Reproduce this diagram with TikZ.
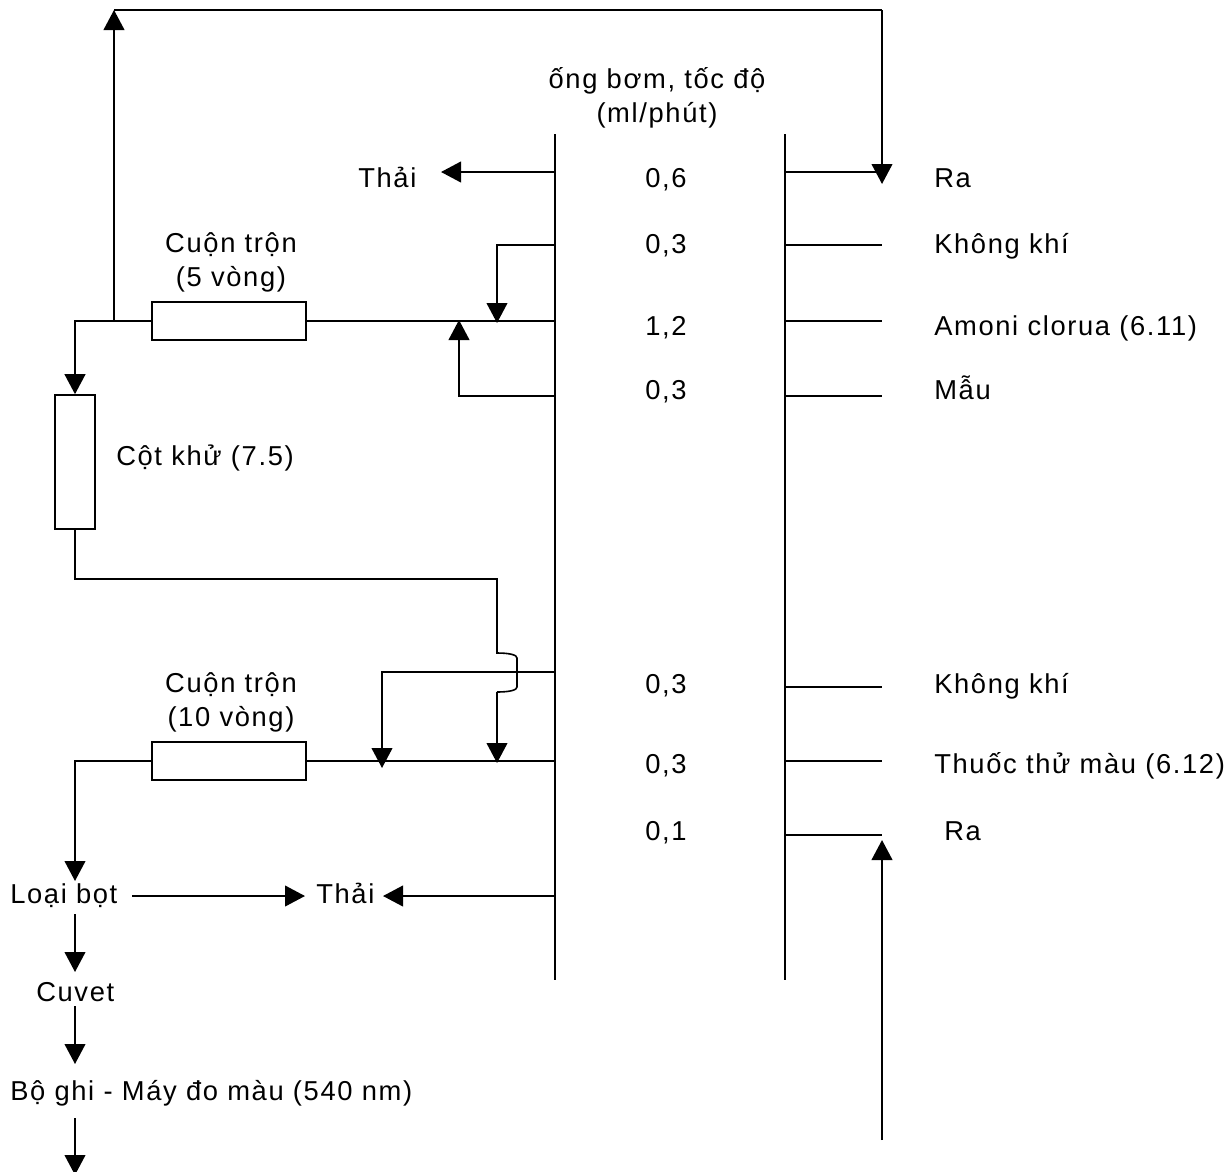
\documentclass[tikz,border=0pt]{standalone}
\usepackage{fontspec}
\setmainfont[LetterSpace=6.0]{Liberation Sans}
\usetikzlibrary{arrows.meta}
\tikzset{
  txt/.style={inner sep=0pt,anchor=base west,font=\fontsize{20.5}{24}\selectfont},
  ctxt/.style={inner sep=0pt,anchor=base,font=\fontsize{20.5}{24}\selectfont},
  wire/.style={line width=1.5pt,black},
  thin wire/.style={line width=1.2pt,black},
  flow/.style={wire,-{Triangle[length=15pt,width=15.5pt]}},
  unit/.style={draw=black,line width=1.2pt,fill=white,inner sep=0pt},
  hbox/.style={unit,minimum width=115.5pt,minimum height=28.5pt},
  vbox/.style={unit,minimum width=30pt,minimum height=100.5pt}
}
\begin{document}
\begin{tikzpicture}[x=0.75pt,y=-0.75pt]
\useasboundingbox (0,0) rectangle (1226,1171);
\clip (0,0) rectangle (1226,1171);
% rails
\coordinate (Lt) at (555,134); \coordinate (Lb) at (555,980);
\coordinate (Rt) at (785,134); \coordinate (Rb) at (785,980);
\draw[wire] (Lt) -- (Lb);
\draw[wire] (Rt) -- (Rb);
% boxes
\node[hbox] (coil1) at (229,321) {};
\node[vbox] (col) at (75,462) {};
\node[hbox] (coil2) at (229,761) {};
% texts
\node[ctxt] (pumpa) at (657,88) {ống bơm, tốc độ};
\node[ctxt] (pumpb) at (657,122) {(ml/phút)};
\node[txt] (waste1) at (358,187) {Thải};
\node[ctxt] (v1) at (666,187) {0,6};
\node[ctxt] (v2) at (666,253) {0,3};
\node[ctxt] (v3) at (666,335) {1,2};
\node[ctxt] (v4) at (666,399) {0,3};
\node[ctxt] (v5) at (666,693) {0,3};
\node[ctxt] (v6) at (666,773) {0,3};
\node[ctxt] (v7) at (666,840) {0,1};
\node[txt] (r1) at (934,187) {Ra};
\node[txt] (r2) at (934,253) {Không khí};
\node[txt] (r3) at (934,335) {Amoni clorua (6.11)};
\node[txt] (r4) at (934,399) {Mẫu};
\node[txt] (r5) at (934,693) {Không khí};
\node[txt] (r6) at (934,773) {Thuốc thử màu (6.12)};
\node[txt] (r7) at (944,840) {Ra};
\node[ctxt] (c1a) at (231,252) {Cuộn trộn};
\node[ctxt] (c1b) at (231,286) {(5 vòng)};
\node[ctxt] (c2a) at (231,692) {Cuộn trộn};
\node[ctxt] (c2b) at (231,726) {(10 vòng)};
\node[txt] (coltxt) at (116,465) {Cột khử (7.5)};
\node[txt] (foam) at (10,903) {Loại bọt};
\node[txt] (waste2) at (316,903) {Thải};
\node[txt] (cuvet) at (36,1001) {Cuvet};
\node[txt] (rec) at (10,1100) {Bộ ghi - Máy đo màu (540 nm)};
% connection points
\coordinate (a1) at (555,172); \coordinate (a1t) at (441,172);
\coordinate (b1) at (785,172); \coordinate (b1e) at (882,172);
\coordinate (b2) at (785,245); \coordinate (b2e) at (882,245);
\coordinate (b3) at (785,321); \coordinate (b3e) at (882,321);
\coordinate (b4) at (785,396); \coordinate (b4e) at (882,396);
\coordinate (b5) at (785,687); \coordinate (b5e) at (882,687);
\coordinate (b6) at (785,761); \coordinate (b6e) at (882,761);
\coordinate (b7) at (785,835); \coordinate (b7e) at (882,835);
\coordinate (m1) at (555,321);
\coordinate (a2) at (555,245); \coordinate (a2k) at (497,245); \coordinate (a2t) at (497,323);
\coordinate (a4) at (555,396); \coordinate (a4k) at (459,396); \coordinate (a4t) at (459,320);
\coordinate (j1) at (75,321); \coordinate (j2) at (114,321);
\coordinate (top1) at (114,10); \coordinate (top2) at (882,10); \coordinate (top3) at (882,184);
\coordinate (n1) at (75,579); \coordinate (n2) at (497,579); \coordinate (n3) at (497,653);
\coordinate (n4) at (497,692); \coordinate (n5) at (497,763);
\coordinate (m2) at (555,761);
\coordinate (a6) at (555,672); \coordinate (a6k) at (382,672); \coordinate (a6t) at (382,768);
\coordinate (k1) at (75,761); \coordinate (k2) at (75,881);
\coordinate (f1) at (132,896); \coordinate (f2) at (305,896);
\coordinate (w1) at (555,896); \coordinate (w2) at (383,896);
\coordinate (d1) at (75,914); \coordinate (d2) at (75,972);
\coordinate (d3) at (75,1006); \coordinate (d4) at (75,1064);
\coordinate (d5) at (75,1118); \coordinate (d6) at (75,1175);
\coordinate (u1) at (882,1140); \coordinate (u2) at (882,840);
% connectors
\draw[flow] (a1) -- (a1t);
\draw[wire] (b1) -- (b1e);
\draw[thin wire] (b2) -- (b2e);
\draw[thin wire] (b3) -- (b3e);
\draw[thin wire] (b4) -- (b4e);
\draw[thin wire] (b5) -- (b5e);
\draw[thin wire] (b6) -- (b6e);
\draw[thin wire] (b7) -- (b7e);
\draw[thin wire] (m1) -- (coil1.east);
\draw[flow] (a2) -- (a2k) -- (a2t);
\draw[flow] (a4) -- (a4k) -- (a4t);
\draw[flow] (coil1.west) -- (j1) -- (col.north);
\draw[flow] (j2) -- (top1);
\draw[wire] (top1) -- (top2);
\draw[flow] (top2) -- (top3);
\draw[thin wire] (col.south) -- (n1) -- (n2) -- (n3)
  .. controls (510,653) and (517,655) .. (517,658) -- (517,687)
  .. controls (517,690) and (510,692) .. (n4);
\draw[flow] (n4) -- (n5);
\draw[thin wire] (m2) -- (coil2.east);
\draw[flow] (a6) -- (a6k) -- (a6t);
\draw[flow] (coil2.west) -- (k1) -- (k2);
\draw[flow] (f1) -- (f2);
\draw[flow] (w1) -- (w2);
\draw[flow] (d1) -- (d2);
\draw[flow] (d3) -- (d4);
\draw[flow] (d5) -- (d6);
\draw[flow] (u1) -- (u2);
\end{tikzpicture}
\end{document}
